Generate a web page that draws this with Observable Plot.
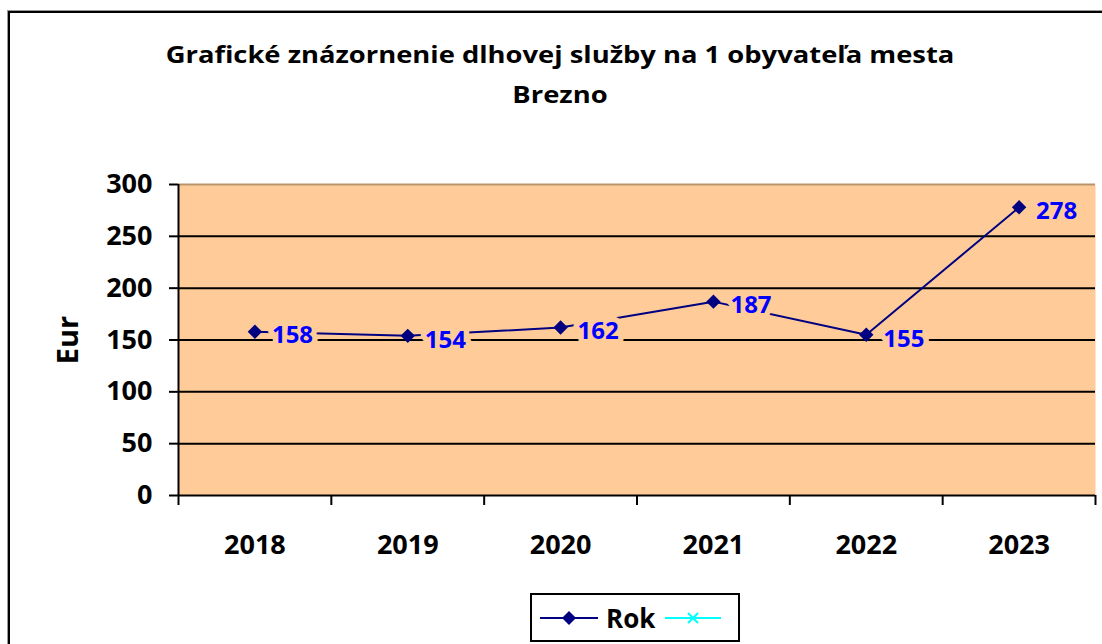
<!DOCTYPE html>
<html>
<head>
<meta charset="utf-8">
<script src="https://cdn.jsdelivr.net/npm/d3@7"></script>
<script src="https://cdn.jsdelivr.net/npm/@observablehq/plot@0.6"></script>
<style>
  html, body { margin: 0; padding: 0; background: #fff; }
  body { width: 1102px; height: 644px; position: relative; overflow: hidden; font-family: "Open Sans", sans-serif; }
  #frame { position: absolute; left: 8px; top: 11px; width: 1200px; height: 700px; border-top: 2px solid #000; border-left: 2px solid #000; box-shadow: -1px -1px 0 #999; }
  #title { position: absolute; left: 0; top: 34px; width: 1120px; text-align: center; font-weight: bold; font-size: 24px; line-height: 40px; color: #000; transform: scaleX(1.14); transform-origin: 560px 0; }
  #chart { position: absolute; left: 0; top: 0; }
  #legend { position: absolute; left: 530px; top: 593px; width: 206px; height: 45px; border: 2px solid #000; background: #fff; display: flex; align-items: center; }
  #legend span { font-weight: bold; font-size: 26px; margin: 0 8px 0 6px; }
</style>
</head>
<body>
<div id="frame"></div>
<div id="title">Grafické znázornenie dlhovej služby na 1 obyvateľa mesta<br>Brezno</div>
<div id="chart"></div>
<div id="legend">
  <svg width="62" height="20" style="margin-left:6px"><line x1="2" x2="60" y1="10" y2="10" stroke="#000080" stroke-width="2"/><path d="M31,3 L38,10 L31,17 L24,10 Z" fill="#000080"/></svg>
  <span>Rok</span>
  <svg width="60" height="20"><line x1="2" x2="58" y1="10" y2="10" stroke="#00FFFF" stroke-width="2"/><path d="M25,5 L35,15 M35,5 L25,15" stroke="#00FFFF" stroke-width="2"/></svg>
</div>
<script>
const years = [2018, 2019, 2020, 2021, 2022, 2023];
const values = [158, 154, 162, 187, 155, 278];
const yTicks = [0, 50, 100, 150, 200, 250, 300];
const gridValues = [50, 100, 150, 200, 250];
const bandEdges = [2017.5, 2018.5, 2019.5, 2020.5, 2021.5, 2022.5, 2023.5];

const data = years.map((y, i) => ({year: y, value: values[i]}));
const font = "'Open Sans', sans-serif";

const chart = Plot.plot({
  width: 1102,
  height: 644,
  marginTop: 184,
  marginBottom: 149,
  marginLeft: 178,
  marginRight: 7,
  x: {type: "linear", domain: [2017.5, 2023.5], axis: null},
  y: {type: "linear", domain: [0, 300], axis: null},
  style: {fontFamily: font, background: "transparent"},
  marks: [
    Plot.frame({fill: "#FFCC99", stroke: null}),
    Plot.ruleY(gridValues, {stroke: "#000", strokeWidth: 2}),
    Plot.ruleY([300], {stroke: "#B8946C", strokeWidth: 2}),
    Plot.ruleY([0], {stroke: "#000", strokeWidth: 2}),
    Plot.ruleX([2017.5], {stroke: "#000", strokeWidth: 2}),
    Plot.ruleY(yTicks, {y: d => d, x1: () => 2017.5, x2: () => 2017.5, insetLeft: -9, stroke: "#000", strokeWidth: 2}),
    Plot.ruleX(bandEdges, {x: d => d, y1: () => 0, y2: () => 0, insetBottom: -10, stroke: "#000", strokeWidth: 2}),
    Plot.text(yTicks, {x: () => 2017.5, y: d => d, text: d => String(d), dx: -26, textAnchor: "end", fontSize: 27, fontWeight: "bold", fill: "#000"}),
    Plot.text(years, {x: d => d, y: () => 0, text: d => String(d), dy: 50, fontSize: 27, fontWeight: "bold", fill: "#000"}),
    Plot.text(["Eur"], {frameAnchor: "left", textAnchor: "middle", dx: -110, rotate: -90, fontSize: 29, fontWeight: "bold", fill: "#000"}),
    Plot.line(data, {x: "year", y: "value", stroke: "#000080", strokeWidth: 2}),
    Plot.dot(data, {x: "year", y: "value", symbol: "diamond2", r: 6.5, fill: "#000080", stroke: null}),
    Plot.text(data, {x: "year", y: "value", text: d => String(d.value), textAnchor: "start", dx: 17, dy: 4, fontSize: 24, fontWeight: "bold", fill: "#0000FF", stroke: "#FFCC99", strokeWidth: 11, strokeLinejoin: "round", paintOrder: "stroke"})
  ]
});
document.getElementById("chart").appendChild(chart);
</script>
</body>
</html>
